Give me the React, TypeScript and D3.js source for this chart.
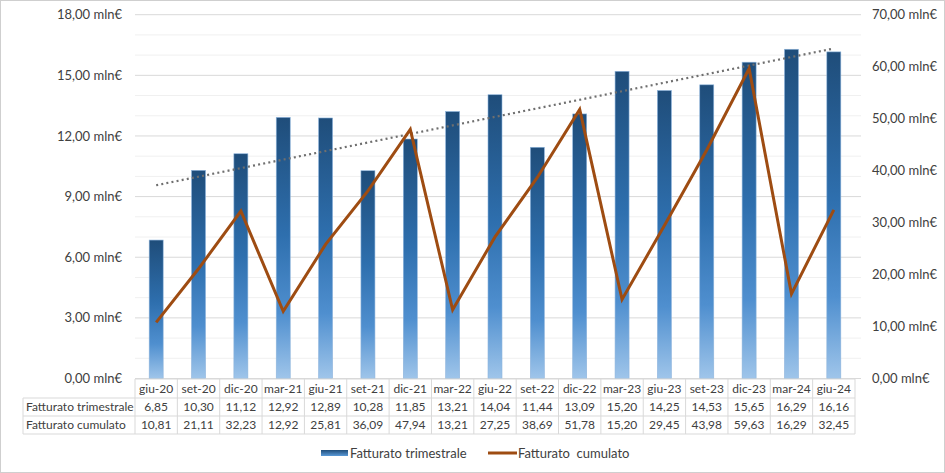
import React from "react";
import * as d3 from "d3";

const categories = ["giu-20","set-20","dic-20","mar-21","giu-21","set-21","dic-21","mar-22","giu-22","set-22","dic-22","mar-23","giu-23","set-23","dic-23","mar-24","giu-24"];
const trimestrale = [6.85,10.30,11.12,12.92,12.89,10.28,11.85,13.21,14.04,11.44,13.09,15.20,14.25,14.53,15.65,16.29,16.16];
const cumulato = [10.81,21.11,32.23,12.92,25.81,36.09,47.94,13.21,27.25,38.69,51.78,15.20,29.45,43.98,59.63,16.29,32.45];
const leftTicks = [0,3,6,9,12,15,18];
const rightTicks = [0,10,20,30,40,50,60,70];
const seriesNames = ["Fatturato trimestrale", "Fatturato  cumulato"];

const W = 945, H = 473;
const FONT = "Lato, 'Open Sans', sans-serif";

export default function App() {
  const left = 135, right = 855, top = 14.7, bottom = 378.5;
  const x = d3.scaleBand<string>().domain(categories).range([left, right]).paddingInner(0).paddingOuter(0);
  const yL = d3.scaleLinear().domain([0, 18]).range([bottom, top]);
  const yR = d3.scaleLinear().domain([0, 70]).range([bottom, top]);
  const bw = 14;
  const cx = (c: string) => (x(c) as number) + x.bandwidth() / 2;
  const fmt = (v: number) => v.toFixed(2).replace(".", ",");

  // linear trendline (least squares) on quarterly values
  const n = trimestrale.length;
  const xs = trimestrale.map((_, i) => i + 1);
  const mx = d3.mean(xs) as number, my = d3.mean(trimestrale) as number;
  const slope = d3.sum(xs.map((xi, i) => (xi - mx) * (trimestrale[i] - my))) / d3.sum(xs.map(xi => (xi - mx) ** 2));
  const icpt = my - slope * mx;
  const t0 = icpt + slope * 1, t1 = icpt + slope * n;

  const line = d3.line<number>().x((_, i) => cx(categories[i])).y(d => yR(d));
  const minor = d3.range(0, 18.01, 1);

  const rows = [379, 398, 416, 434];
  const labelLeft = 23;

  return (
    <div style={{ position: "absolute", left: 0, top: 0 }}>
      <svg width={W} height={H} style={{ display: "block", fontFamily: FONT }}>
        <defs>
          <linearGradient id="barGrad" x1="0" y1="0" x2="0" y2="1">
            <stop offset="0%" stopColor="#1f4d7a" />
            <stop offset="45%" stopColor="#2e6fae" />
            <stop offset="75%" stopColor="#4f8fcf" />
            <stop offset="100%" stopColor="#9fc5ea" />
          </linearGradient>
          <linearGradient id="legGrad" x1="0" y1="0" x2="0" y2="1">
            <stop offset="0%" stopColor="#1f4d7a" />
            <stop offset="100%" stopColor="#5a9ad8" />
          </linearGradient>
        </defs>
        <rect x={0} y={0} width={W} height={H} fill="#fff" />
        <rect x={0.5} y={0.5} width={W - 1} height={H - 1} fill="none" stroke="#cfcfcf" />

        {minor.map(v => (
          <line key={"m" + v} x1={left} x2={right + 6} y1={yL(v)} y2={yL(v)}
            stroke={v % 3 === 0 ? "#d9d9d9" : "#f0f0f0"} strokeWidth={1} />
        ))}

        {leftTicks.map(v => (
          <text key={"l" + v} x={122} y={yL(v)} dy="0.35em" textAnchor="end" fontSize={13} fill="#404040">{fmt(v)} mln€</text>
        ))}
        {rightTicks.map(v => (
          <text key={"r" + v} x={872} y={yR(v)} dy="0.35em" textAnchor="start" fontSize={13} fill="#404040">{fmt(v)} mln€</text>
        ))}

        {categories.map((c, i) => (
          <rect key={"b" + c} x={cx(c) - bw / 2} y={yL(trimestrale[i])} width={bw} height={bottom - yL(trimestrale[i])}
            fill="url(#barGrad)" stroke="#8db4dc" strokeWidth={0.6} />
        ))}

        <line x1={cx(categories[0])} x2={cx(categories[n - 1])} y1={yL(t0)} y2={yL(t1)}
          stroke="#6f6f6f" strokeWidth={2.2} strokeDasharray="2 3.2" />

        <path d={line(cumulato) || ""} fill="none" stroke="#9e4c12" strokeWidth={3} strokeLinejoin="miter" />

        {/* data table */}
        <g stroke="#d9d9d9" strokeWidth={1}>
          <line x1={left} x2={right} y1={rows[0]} y2={rows[0]} />
          <line x1={labelLeft} x2={right} y1={rows[1]} y2={rows[1]} />
          <line x1={labelLeft} x2={right} y1={rows[2]} y2={rows[2]} />
          <line x1={labelLeft} x2={right} y1={rows[3]} y2={rows[3]} />
          <line x1={labelLeft} x2={labelLeft} y1={rows[1]} y2={rows[3]} />
          {categories.map(c => (
            <line key={"v" + c} x1={x(c) as number} x2={x(c) as number} y1={rows[0]} y2={rows[3]} />
          ))}
          <line x1={right} x2={right} y1={rows[0]} y2={rows[3]} />
        </g>
        {categories.map((c, i) => (
          <g key={"t" + c} fontSize={12} fill="#404040" textAnchor="middle">
            <text x={cx(c)} y={(rows[0] + rows[1]) / 2} dy="0.35em">{c}</text>
            <text x={cx(c)} y={(rows[1] + rows[2]) / 2} dy="0.35em">{fmt(trimestrale[i])}</text>
            <text x={cx(c)} y={(rows[2] + rows[3]) / 2} dy="0.35em">{fmt(cumulato[i])}</text>
          </g>
        ))}
        <text x={26} y={(rows[1] + rows[2]) / 2} dy="0.35em" fontSize={12} fill="#404040">{seriesNames[0]}</text>
        <text x={26} y={(rows[2] + rows[3]) / 2} dy="0.35em" fontSize={12} fill="#404040">{seriesNames[1]}</text>

        {/* legend */}
        <rect x={321} y={450} width={27} height={6} fill="url(#legGrad)" />
        <text x={350} y={453} dy="0.35em" fontSize={13} fill="#404040">{seriesNames[0]}</text>
        <line x1={488} x2={517} y1={453} y2={453} stroke="#9e4c12" strokeWidth={3} />
        <text x={518} y={453} dy="0.35em" fontSize={13} fill="#404040" style={{ whiteSpace: "pre" }}>{seriesNames[1]}</text>
      </svg>
    </div>
  );
}
